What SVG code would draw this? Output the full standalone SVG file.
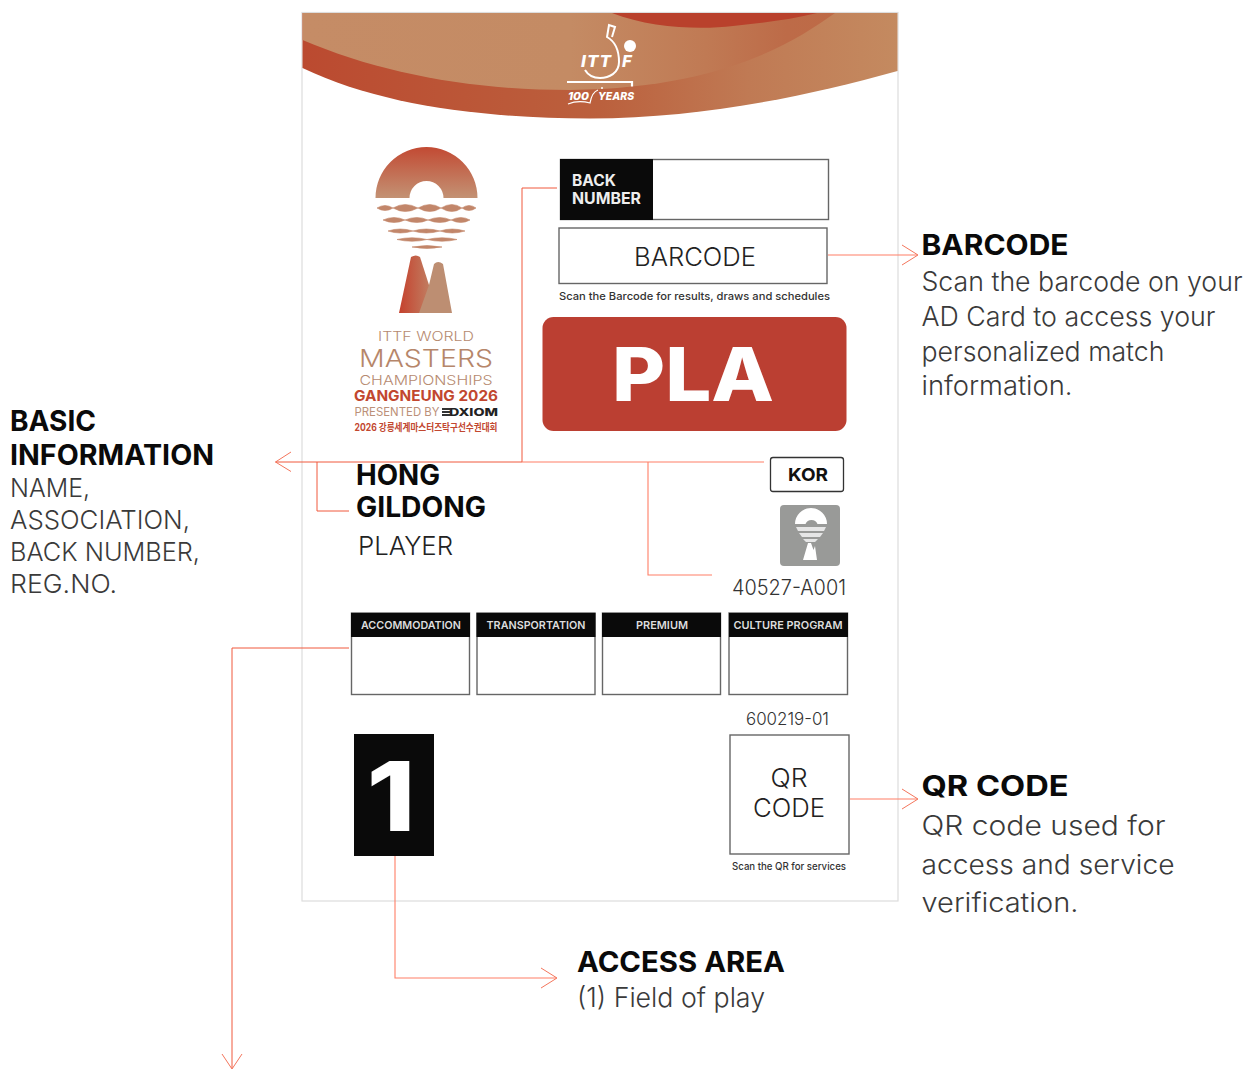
<svg xmlns="http://www.w3.org/2000/svg" width="1246" height="1070" viewBox="0 0 1246 1070">
<style>
text{font-family:"Inter","Lato","Liberation Sans","Noto Sans CJK KR",sans-serif;fill:#111}
.h{font-weight:700;font-size:29px;fill:#0a0a0a}
.b{font-weight:300;font-size:27px;fill:#3a3a3a}
.l{font-weight:300;font-size:26px;fill:#3a3a3a}
.tab{font-weight:600;font-size:11px;fill:#ddd;text-anchor:middle}
.box{fill:#fff;stroke:#666;stroke-width:1.4}
.cn{fill:none;stroke:#ff7f66;stroke-width:1.1}
.cd{fill:none;stroke:#f0583c;stroke-width:1}
.ah{fill:none;stroke:#f2654a;stroke-width:.9}
.w{fill:none;stroke:#fff}
.wi{font-style:italic;font-weight:800;fill:#fff}
</style>
<defs>
<linearGradient id="g1" gradientUnits="userSpaceOnUse" x1="302" x2="898" y1="0" y2="0"><stop offset="0" stop-color="#bb4a30"/><stop offset=".5" stop-color="#bb603d"/><stop offset=".75" stop-color="#c07a54"/><stop offset="1" stop-color="#c48a60"/></linearGradient>
<linearGradient id="g2" gradientUnits="userSpaceOnUse" x1="302" x2="840" y1="0" y2="0"><stop offset="0" stop-color="#c58c66"/><stop offset=".5" stop-color="#c48b64"/><stop offset=".75" stop-color="#c07a54"/><stop offset=".9" stop-color="#bd6b48"/><stop offset="1" stop-color="#be6a46"/></linearGradient>
<linearGradient id="g3" x1="0" x2="0" y1="0" y2="1"><stop offset="0" stop-color="#c24a33"/><stop offset="1" stop-color="#c39274"/></linearGradient>
<linearGradient id="g4" x1="0" x2="1" y1="0" y2="0"><stop offset="0" stop-color="#c5412d"/><stop offset="1" stop-color="#c08a6c"/></linearGradient>
</defs>
<rect width="1246" height="1070" fill="#fff"/>
<g id="card">
<rect x="302" y="12.500" width="596" height="888.500" fill="#fff" stroke="#ddd" stroke-width="1.200"/>
</g>
<g id="banner">
<path d="M302.500 13H897.500V71C800 98 700 118 590 118.500C480 118 380 105 302.500 68Z" fill="url(#g1)"/>
<path d="M302.500 13H835C790 45 720 88 570 90C470 90 380 73 302.500 40Z" fill="url(#g2)"/>
<path d="M612 13C650 28 700 30 733 26C760 23 790 20 817 13Z" fill="#b9412c"/>
</g>
<g id="ittf-logo">
<path class="w" stroke-width="2" d="M612 37L615 27L609 25L607 37C616 42 619 52 619 62C619 73 609 78 600 78C593 78 588 75 585 70"/>
<circle cx="630" cy="46" r="6" fill="#fff"/>
<text class="wi" x="581" y="67" style="font-size:16.500px;letter-spacing:1px" textLength="31" lengthAdjust="spacingAndGlyphs">ITT</text>
<text class="wi" x="622" y="67" style="font-size:16.500px">F</text>
<path class="w" stroke-width="2.200" d="M567 82H632V86.500"/>
<text class="wi" x="568" y="100" style="font-size:11px" textLength="21" lengthAdjust="spacingAndGlyphs">100</text>
<text class="wi" x="598" y="100" style="font-size:11px" textLength="36" lengthAdjust="spacingAndGlyphs">YEARS</text>
<path class="w" stroke-width="1.200" d="M568 104Q578 100 590 103Q592 92 598 90"/>
<circle cx="602" cy="88" r="1" fill="#fff"/>
</g>
<g id="event-logo">
<path d="M375.500 198A51 51 0 0 1 477.500 198H443.500A17 17 0 0 0 409.500 198Z" fill="url(#g3)"/>
<g fill="#c2866a" stroke="#c2866a" stroke-width=".6">
<path d="M377 208Q385 203 393 208Q405 201 418 208Q430 201 441 208Q452 201 462 208Q469 203 476 208Q469 213 462 208Q452 215 441 208Q430 215 418 208Q405 215 393 208Q385 213 377 208Z"/>
<path d="M383 220Q394 215 405 220Q417 215 428 220Q440 215 451 220Q461 215 470 220Q461 225 451 220Q440 225 428 220Q417 225 405 220Q394 225 383 220Z"/>
<path d="M388 231Q400 227 413 231Q426 227 440 231Q452 227 465 231Q452 235 440 231Q426 235 413 231Q400 235 388 231Z"/>
<path d="M397 239.500Q412 236 427 239.500Q442 236 457 239.500Q442 243 427 239.500Q412 243 397 239.500Z"/>
<path d="M412 247Q427 244 442 247Q427 250 412 247Z"/>
</g>
<path d="M399 313L411 257Q416 254 420 257L429 285L436 313Z" fill="url(#g4)"/>
<path d="M419 313L429 285L434 264Q438 260 443 264L452 313Z" fill="#bd8e72"/>
<g text-anchor="middle">
<text x="426" y="340.500" style="font-size:13px;font-weight:300;fill:#b68a70" textLength="96" lengthAdjust="spacingAndGlyphs">ITTF WORLD</text>
<text x="426" y="367" style="font-size:24.500px;font-weight:300;fill:#b6866a" textLength="134" lengthAdjust="spacingAndGlyphs">MASTERS</text>
<text x="426" y="384.500" style="font-size:13.500px;font-weight:300;fill:#b68a70" textLength="133" lengthAdjust="spacingAndGlyphs">CHAMPIONSHIPS</text>
<text x="426" y="401" style="font-size:14.500px;font-weight:700;fill:#c2472f" textLength="144" lengthAdjust="spacingAndGlyphs">GANGNEUNG 2026</text>
<text x="397" y="416" style="font-size:11.500px;font-weight:400;fill:#bb9078" textLength="85" lengthAdjust="spacingAndGlyphs">PRESENTED BY</text>
<text x="426" y="431" style="font-size:10px;font-weight:700;fill:#c2472f" textLength="143" lengthAdjust="spacingAndGlyphs">2026 강릉세계마스터즈탁구선수권대회</text>
</g>
<text x="449" y="416" style="font-size:10.500px;font-weight:800;fill:#222" textLength="49" lengthAdjust="spacingAndGlyphs">DXIOM</text>
<path d="M442 408H450V410H442ZM442 411H450V413H442ZM442 414H450V416H442Z" fill="#333"/>
</g>
<g id="back-number">
<rect class="box" x="560.500" y="159.500" width="268" height="60"/>
<rect x="560" y="159" width="93" height="61" fill="#0a0a0a"/>
<text x="572" y="186" style="font-size:15.500px;font-weight:700;fill:#eee">BACK</text>
<text x="572" y="204" style="font-size:15.500px;font-weight:700;fill:#eee" textLength="69" lengthAdjust="spacingAndGlyphs">NUMBER</text>
</g>
<g id="barcode">
<rect class="box" x="559" y="228" width="268" height="55.500"/>
<text x="695" y="266" text-anchor="middle" style="font-size:25px;font-weight:300;fill:#222" textLength="122" lengthAdjust="spacingAndGlyphs">BARCODE</text>
<text x="559" y="300" style="font-size:11px;font-weight:500;fill:#333" textLength="271" lengthAdjust="spacingAndGlyphs">Scan the Barcode for results, draws and schedules</text>
</g>
<g id="pla">
<rect x="542.500" y="317" width="304" height="114" rx="11" fill="#bb3f32"/>
<text x="693" y="401" text-anchor="middle" style="font-size:74px;font-weight:800;fill:#fff" textLength="162" lengthAdjust="spacingAndGlyphs">PLA</text>
</g>
<g id="name">
<text x="356" y="485" style="font-size:28px;font-weight:700;fill:#0a0a0a" textLength="84" lengthAdjust="spacingAndGlyphs">HONG</text>
<text x="356" y="517" style="font-size:28px;font-weight:700;fill:#0a0a0a" textLength="130" lengthAdjust="spacingAndGlyphs">GILDONG</text>
<text x="358" y="555" style="font-size:26px;font-weight:300;fill:#222" textLength="95" lengthAdjust="spacingAndGlyphs">PLAYER</text>
</g>
<g id="kor">
<rect x="770.500" y="457.500" width="73" height="34" rx="2.500" fill="#fff" stroke="#333" stroke-width="1.300"/>
<text x="808" y="481" text-anchor="middle" style="font-size:18px;font-weight:700;fill:#111" textLength="40" lengthAdjust="spacingAndGlyphs">KOR</text>
</g>
<g id="reg">
<rect x="780" y="505" width="60" height="61" rx="4" fill="#999a98"/>
<path d="M795 524A16 16 0 0 1 827 524H817.500A6.500 6.500 0 0 0 805.500 524Z" fill="#fff"/>
<path d="M796 527H826L824 531H798ZM799 533H823L820 537H802ZM803 539H818L815 542H806Z" fill="#e6e6e6"/>
<path d="M803 560L808 543H811L813.500 550L815 546L817 560Z" fill="#fff"/>
<text x="732" y="595" style="font-size:21.500px;font-weight:300;fill:#333" textLength="114" lengthAdjust="spacingAndGlyphs">40527-A001</text>
</g>
<g id="accommodation"><rect class="box" x="351.500" y="613" width="118" height="81.500"/><rect x="351" y="613" width="119" height="24" fill="#0a0a0a"/><text class="tab" x="411" y="629" textLength="100" lengthAdjust="spacingAndGlyphs">ACCOMMODATION</text></g>
<g id="transportation"><rect class="box" x="477" y="613" width="118" height="81.500"/><rect x="476.500" y="613" width="119" height="24" fill="#0a0a0a"/><text class="tab" x="536" y="629" textLength="99" lengthAdjust="spacingAndGlyphs">TRANSPORTATION</text></g>
<g id="premium"><rect class="box" x="602.500" y="613" width="118" height="81.500"/><rect x="602" y="613" width="119" height="24" fill="#0a0a0a"/><text class="tab" x="662" y="629" textLength="52" lengthAdjust="spacingAndGlyphs">PREMIUM</text></g>
<g id="culture"><rect class="box" x="729" y="613" width="118.500" height="81.500"/><rect x="729" y="613" width="119" height="24" fill="#0a0a0a"/><text class="tab" x="788" y="629" textLength="109" lengthAdjust="spacingAndGlyphs">CULTURE PROGRAM</text></g>
<g id="access-number">
<rect x="354" y="734" width="80" height="122" fill="#0a0a0a"/>
<text transform="translate(391 831) scale(1.15 1)" text-anchor="middle" style="font-size:96px;font-weight:800;fill:#fff">1</text>
</g>
<g id="qr">
<text x="787.500" y="725" text-anchor="middle" style="font-size:17.500px;font-weight:300;fill:#333" textLength="83" lengthAdjust="spacingAndGlyphs">600219-01</text>
<rect x="730" y="735" width="119" height="119" fill="#fff" stroke="#666" stroke-width="1.400"/>
<text x="789" y="787" text-anchor="middle" style="font-size:25px;font-weight:300;fill:#222" textLength="37" lengthAdjust="spacingAndGlyphs">QR</text>
<text x="789" y="817" text-anchor="middle" style="font-size:25px;font-weight:300;fill:#222" textLength="72" lengthAdjust="spacingAndGlyphs">CODE</text>
<text x="732" y="870" style="font-size:10.500px;font-weight:500;fill:#333" textLength="114" lengthAdjust="spacingAndGlyphs">Scan the QR for services</text>
</g>
<g id="connectors">
<path class="cd" d="M275.500 462H522M557 188H522V462M317 462V511H349"/>
<path class="cn" d="M522 462H764M648 462V575H712"/>
<path class="cn" d="M828 255H917M850 799H917M395 856V978H556"/>
<path class="cd" d="M349 648H232V1068"/>
<path class="ah" d="M291 452L275.500 462L291 471.500M902 245L918 255L902 265M902 789L918 799L902 809M541 968L557 978L541 988M222 1054L232 1069L242 1054"/>
</g>
<g id="label-barcode">
<text x="921.500" y="255" textLength="147" lengthAdjust="spacingAndGlyphs" class="h">BARCODE</text>
<text class="b" x="921.500" y="291" textLength="321" lengthAdjust="spacingAndGlyphs">Scan the barcode on your</text>
<text class="b" x="921.500" y="326" textLength="294" lengthAdjust="spacingAndGlyphs">AD Card to access your</text>
<text class="b" x="921.500" y="361" textLength="243" lengthAdjust="spacingAndGlyphs">personalized match</text>
<text class="b" x="921.500" y="395" textLength="151" lengthAdjust="spacingAndGlyphs">information.</text>
</g>
<g id="label-basic">
<text class="h" x="10" y="431" textLength="86" lengthAdjust="spacingAndGlyphs">BASIC</text>
<text class="h" x="10" y="465" textLength="204" lengthAdjust="spacingAndGlyphs">INFORMATION</text>
<text class="l" x="10" y="497" textLength="80" lengthAdjust="spacingAndGlyphs">NAME,</text>
<text class="l" x="10" y="529" textLength="180" lengthAdjust="spacingAndGlyphs">ASSOCIATION,</text>
<text class="l" x="10" y="561" textLength="190" lengthAdjust="spacingAndGlyphs">BACK NUMBER,</text>
<text class="l" x="10" y="593" textLength="107" lengthAdjust="spacingAndGlyphs">REG.NO.</text>
</g>
<g id="label-qr">
<text class="h" x="921.500" y="796" textLength="147" lengthAdjust="spacingAndGlyphs">QR CODE</text>
<text class="b" x="921.500" y="835" textLength="244" lengthAdjust="spacingAndGlyphs">QR code used for</text>
<text class="b" x="921.500" y="874" textLength="253" lengthAdjust="spacingAndGlyphs">access and service</text>
<text class="b" x="921.500" y="912" textLength="157" lengthAdjust="spacingAndGlyphs">verification.</text>
</g>
<g id="label-access">
<text class="h" x="577" y="972" textLength="208" lengthAdjust="spacingAndGlyphs">ACCESS AREA</text>
<text class="b" x="577" y="1007" textLength="188" lengthAdjust="spacingAndGlyphs">(1) Field of play</text>
</g>
</svg>
